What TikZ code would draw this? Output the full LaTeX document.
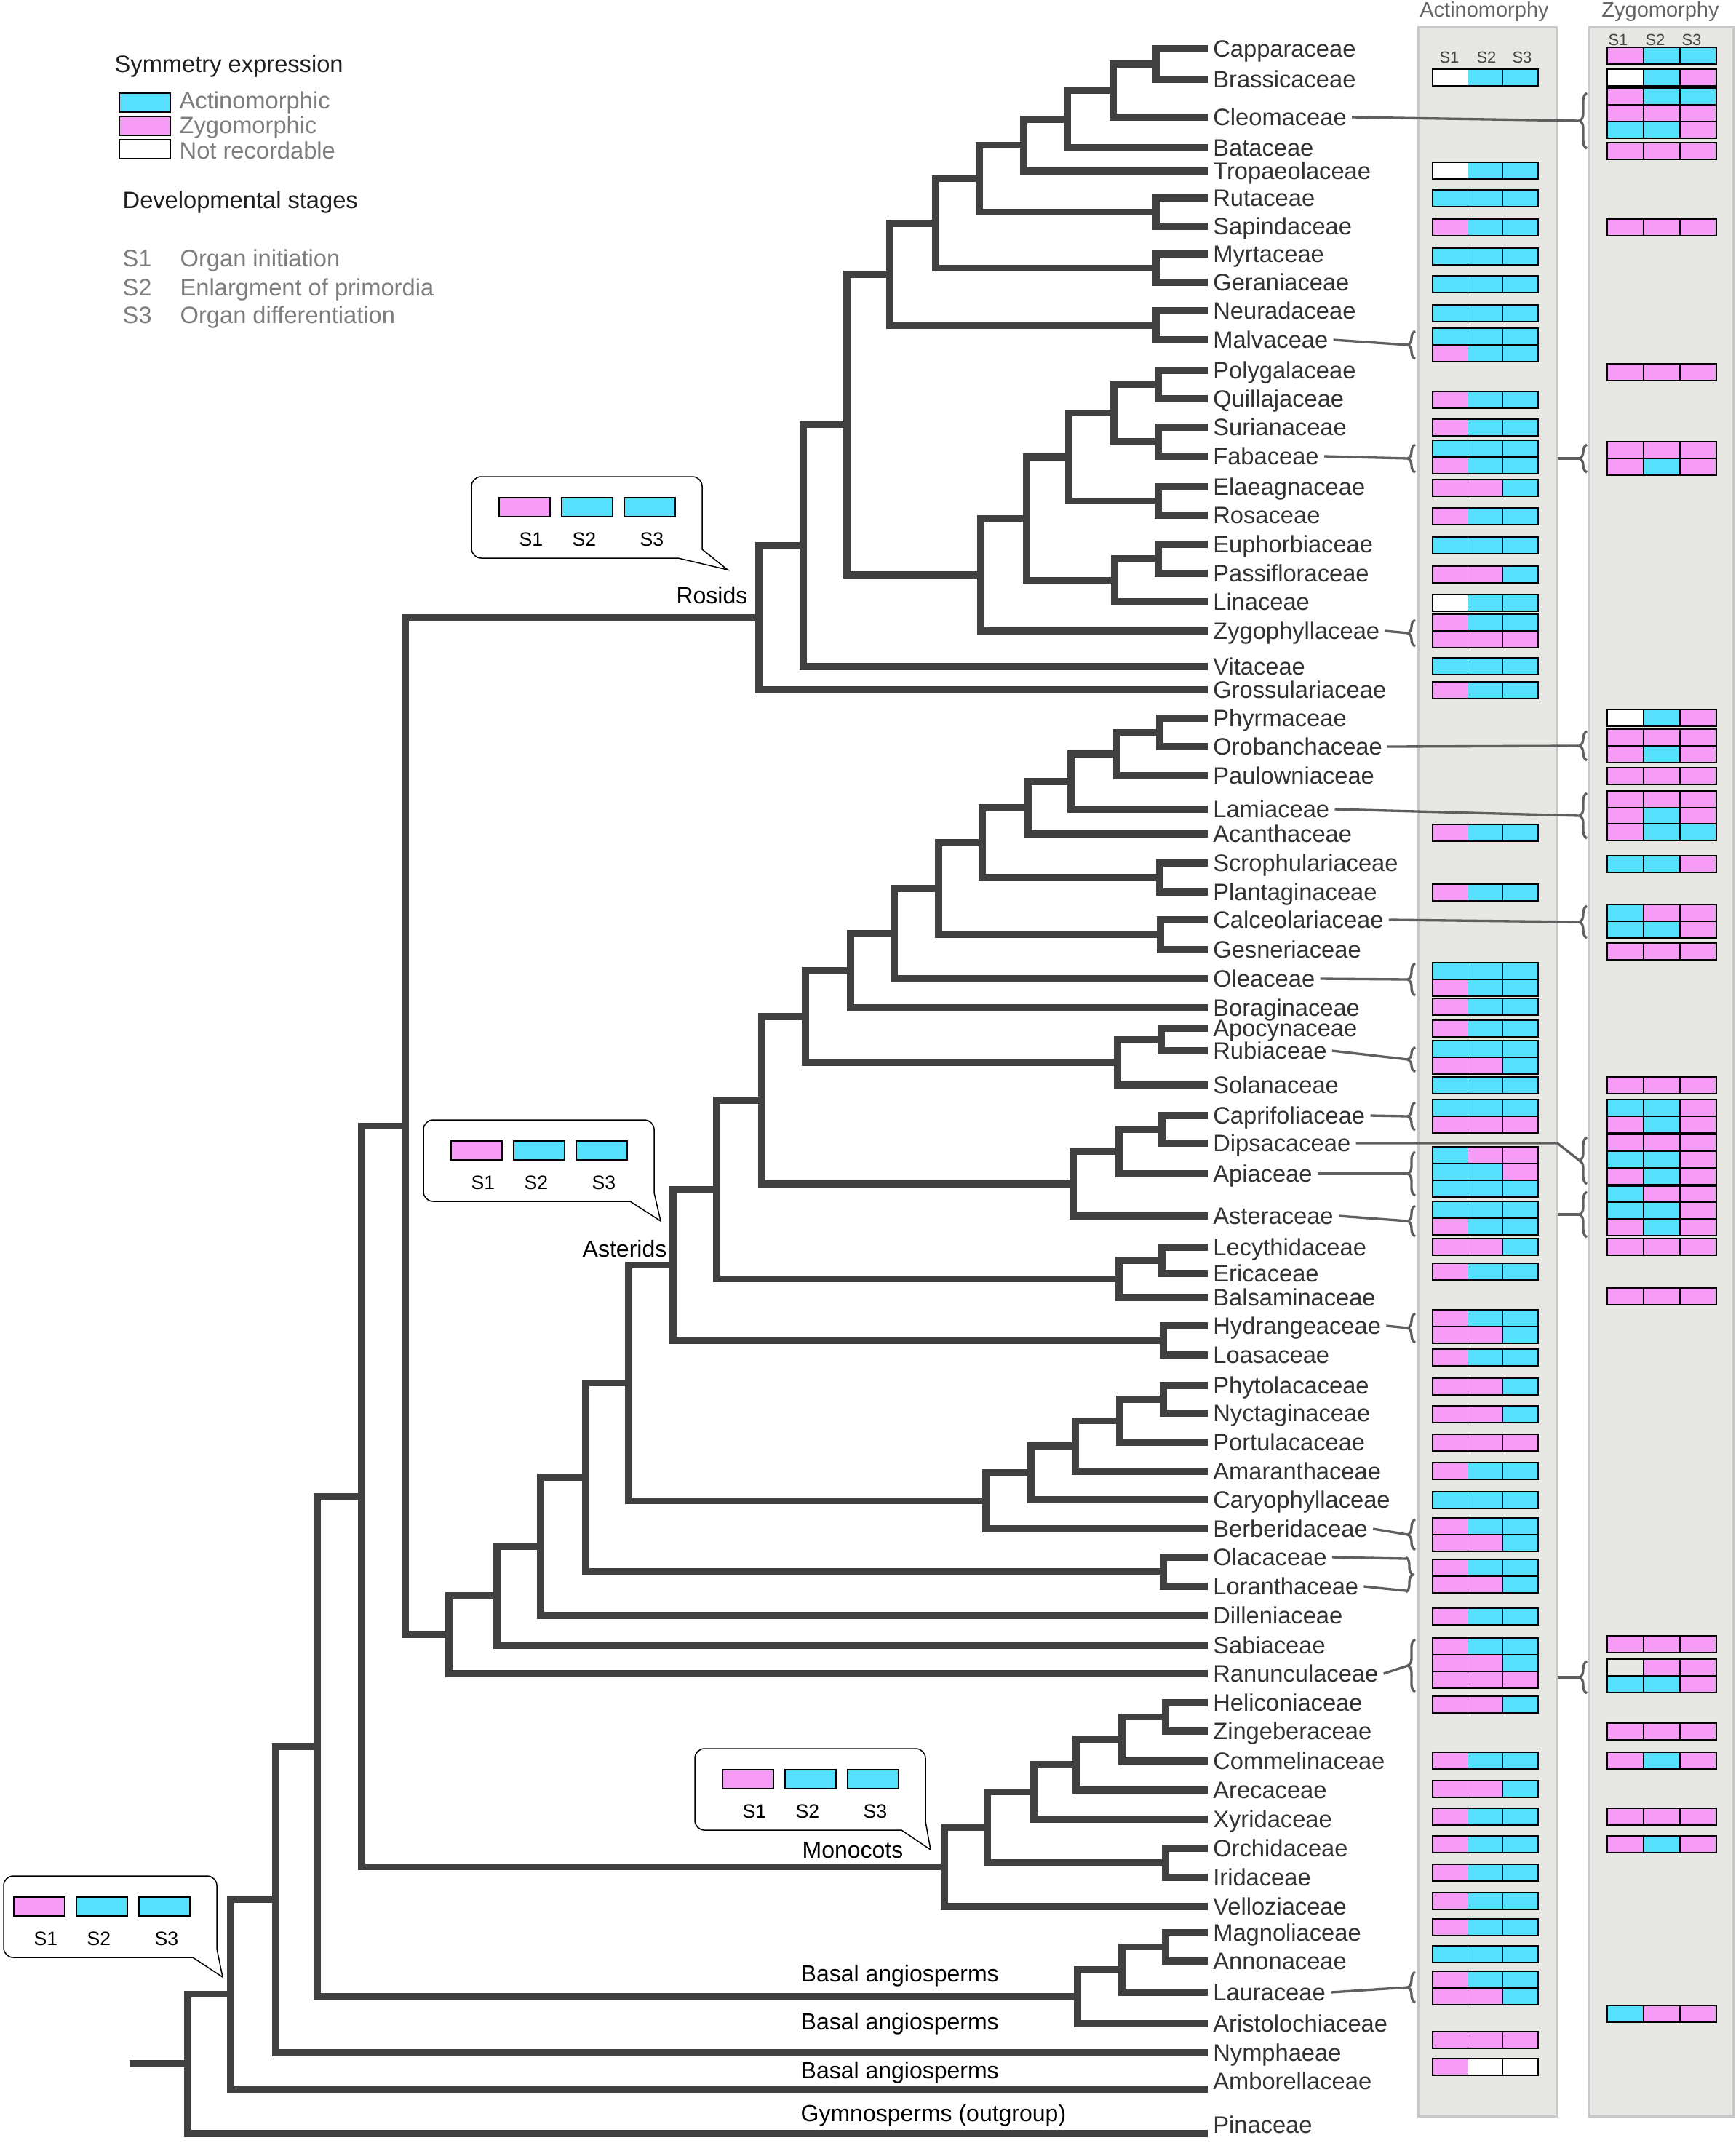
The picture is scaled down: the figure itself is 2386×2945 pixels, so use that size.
\documentclass[tikz,border=0pt]{standalone}
\usepackage{fontspec}
\setmainfont{Liberation Sans}
\usetikzlibrary{decorations.pathreplacing}

\definecolor{treegrey}{RGB}{64,64,64}
\definecolor{labgrey}{RGB}{50,50,50}
\definecolor{keygrey}{RGB}{125,125,125}
\definecolor{titlegrey}{RGB}{100,100,100}
\definecolor{hdrgrey}{RGB}{70,70,70}
\definecolor{leadgrey}{RGB}{95,95,95}
\definecolor{panelfill}{RGB}{231,231,227}
\definecolor{paneledge}{RGB}{200,200,200}
\definecolor{actc}{RGB}{86,224,253}
\definecolor{zygc}{RGB}{246,156,246}

\tikzset{
  branch/.style={draw=treegrey, line width=2.8pt},
  tip/.style={anchor=west, inner sep=2pt, text height=7pt, text depth=0pt, text=labgrey, font=\fontsize{9.8}{11}\selectfont},
  clade/.style={inner sep=0pt, text height=7pt, text depth=0pt, text=black, font=\fontsize{9.6}{11}\selectfont},
  panel/.style={draw=paneledge, fill=panelfill, line width=0.9pt, inner sep=0pt},
  ptitle/.style={inner sep=0pt, text=titlegrey, font=\fontsize{8.7}{10}\selectfont},
  hdr/.style={inner sep=0pt, text=hdrgrey, font=\fontsize{6.6}{8}\selectfont},
  cell/.style={draw=black, line width=0.35pt},
  cy/.style={fill=actc}, pk/.style={fill=zygc}, wh/.style={fill=white}, gy/.style={},
  lead/.style={draw=leadgrey, line width=1pt},
  brc/.style={decorate, decoration={brace, amplitude=3pt}, draw=leadgrey, line width=1pt},
  bubble/.style={draw=black, fill=white, line width=0.45pt},
  stl/.style={inner sep=0pt, font=\fontsize{8}{9}\selectfont},
  keyhead/.style={anchor=west, inner sep=0pt, text height=7pt, text depth=0pt, text=black!88, font=\fontsize{9.8}{11}\selectfont},
  keytxt/.style={anchor=west, inner sep=0pt, text height=7pt, text depth=0pt, text=keygrey, font=\fontsize{9.8}{11}\selectfont},
}

% one row of three stage cells: left x, top y, cell width, fills
\newcommand{\cellrow}[4]{%
  \foreach \f [count=\k from 0] in {#4} {\draw[cell,\f] (#1+\k*#3,#2) rectangle ++(#3,23);}}
\newcommand{\arow}[2]{\cellrow{1969}{#1}{48.33}{#2}}
\newcommand{\zrow}[2]{\cellrow{2209}{#1}{50}{#2}}
% brace opening to the left: name, arm x, mid y, half height
\newcommand{\sbrace}[4]{%
  \draw[brc] (#2,#3+#4) -- (#2,#3-#4);
  \coordinate (#1) at (#2-10,#3);}
% speech bubble with S1-S3 boxes: name, right x, top y, width, tail tip x, tail tip y
\newcommand{\stagecallout}[6]{%
  \draw[bubble] (#2-33,#3+112) -- (#5,#6) -- (#2,#3+100)
    [rounded corners=4pt] -- (#2,#3) -- (#2-#4,#3) -- (#2-#4,#3+112) -- (#2-33,#3+112);
  \draw[cell,pk] (#2-279,#3+29) rectangle ++(70,26);
  \draw[cell,cy] (#2-193,#3+29) rectangle ++(70,26);
  \draw[cell,cy] (#2-107,#3+29) rectangle ++(70,26);
  \node[stl] (#1a) at (#2-235,#3+86) {S1};
  \node[stl] (#1b) at (#2-162,#3+86) {S2};
  \node[stl] (#1c) at (#2-69,#3+86) {S3};}

\begin{document}
\begin{tikzpicture}[x=0.3pt,y=0.3pt,yscale=-1]
\useasboundingbox (0,0) rectangle (2386,2945);

%% legend
\node[keyhead] (symhd) at (157,88) {Symmetry expression};
\draw[cell,cy] (164,128) rectangle (234,154);
\draw[cell,pk] (164,160) rectangle (234,186);
\draw[cell,wh] (164,192) rectangle (234,218);
\node[keytxt] (kact) at (246,138) {Actinomorphic};
\node[keytxt] (kzyg) at (246,172) {Zygomorphic};
\node[keytxt] (knr) at (246,207) {Not recordable};
\node[keyhead] (devhd) at (168,275) {Developmental stages};
\node[keytxt] (ks1) at (168,355) {S1};
\node[keytxt] (ko1) at (247,355) {Organ initiation};
\node[keytxt] (ks2) at (168,395) {S2};
\node[keytxt] (ko2) at (247,395) {Enlargment of primordia};
\node[keytxt] (ks3) at (168,433) {S3};
\node[keytxt] (ko3) at (247,433) {Organ differentiation};

%% panels
\node[panel, minimum width=57pt, minimum height=861.3pt] (actp) at (2044,1472.5) {};
\node[panel, minimum width=59.4pt, minimum height=861.3pt] (zygp) at (2283,1472.5) {};
\node[ptitle] (acttl) at (2040,16) {Actinomorphy};
\node[ptitle] (zygtl) at (2282,16) {Zygomorphy};
\node[hdr] (ah1) at (1992,79) {S1};
\node[hdr] (ah2) at (2043,79) {S2};
\node[hdr] (ah3) at (2092,79) {S3};
\node[hdr] (zh1) at (2224,55) {S1};
\node[hdr] (zh2) at (2275,55) {S2};
\node[hdr] (zh3) at (2325,55) {S3};

%% tip labels
\node[tip] (capp) at (1660,67) {Capparaceae};
\node[tip] (bras) at (1660,109) {Brassicaceae};
\node[tip] (cleo) at (1660,161) {Cleomaceae};
\node[tip] (bata) at (1660,203) {Bataceae};
\node[tip] (trop) at (1660,235) {Tropaeolaceae};
\node[tip] (ruta) at (1660,272) {Rutaceae};
\node[tip] (sapi) at (1660,311) {Sapindaceae};
\node[tip] (myrt) at (1660,349) {Myrtaceae};
\node[tip] (gera) at (1660,388) {Geraniaceae};
\node[tip] (neur) at (1660,427) {Neuradaceae};
\node[tip] (malv) at (1660,467) {Malvaceae};
\node[tip] (poly) at (1660,509) {Polygalaceae};
\node[tip] (quil) at (1660,548) {Quillajaceae};
\node[tip] (suri) at (1660,587) {Surianaceae};
\node[tip] (faba) at (1660,627) {Fabaceae};
\node[tip] (elae) at (1660,669) {Elaeagnaceae};
\node[tip] (rosa) at (1660,708) {Rosaceae};
\node[tip] (euph) at (1660,748) {Euphorbiaceae};
\node[tip] (pass) at (1660,788) {Passifloraceae};
\node[tip] (lina) at (1660,827) {Linaceae};
\node[tip] (zygo) at (1660,867) {Zygophyllaceae};
\node[tip] (vita) at (1660,916) {Vitaceae};
\node[tip] (gros) at (1660,948) {Grossulariaceae};
\node[tip] (phyr) at (1660,987) {Phyrmaceae};
\node[tip] (orob) at (1660,1026) {Orobanchaceae};
\node[tip] (paul) at (1660,1066) {Paulowniaceae};
\node[tip] (lami) at (1660,1112) {Lamiaceae};
\node[tip] (acan) at (1660,1146) {Acanthaceae};
\node[tip] (scro) at (1660,1186) {Scrophulariaceae};
\node[tip] (plan) at (1660,1226) {Plantaginaceae};
\node[tip] (calc) at (1660,1264) {Calceolariaceae};
\node[tip] (gesn) at (1660,1305) {Gesneriaceae};
\node[tip] (olea) at (1660,1345) {Oleaceae};
\node[tip] (bora) at (1660,1385) {Boraginaceae};
\node[tip] (apoc) at (1660,1413) {Apocynaceae};
\node[tip] (rubi) at (1660,1444) {Rubiaceae};
\node[tip] (sola) at (1660,1491) {Solanaceae};
\node[tip] (capr) at (1660,1533) {Caprifoliaceae};
\node[tip] (dips) at (1660,1571) {Dipsacaceae};
\node[tip] (apia) at (1660,1613) {Apiaceae};
\node[tip] (aste) at (1660,1671) {Asteraceae};
\node[tip] (lecy) at (1660,1714) {Lecythidaceae};
\node[tip] (eric) at (1660,1750) {Ericaceae};
\node[tip] (bals) at (1660,1783) {Balsaminaceae};
\node[tip] (hydr) at (1660,1822) {Hydrangeaceae};
\node[tip] (loas) at (1660,1862) {Loasaceae};
\node[tip] (phyt) at (1660,1904) {Phytolacaceae};
\node[tip] (nyct) at (1660,1942) {Nyctaginaceae};
\node[tip] (port) at (1660,1982) {Portulacaceae};
\node[tip] (amar) at (1660,2022) {Amaranthaceae};
\node[tip] (cary) at (1660,2061) {Caryophyllaceae};
\node[tip] (berb) at (1660,2101) {Berberidaceae};
\node[tip] (olac) at (1660,2140) {Olacaceae};
\node[tip] (lora) at (1660,2180) {Loranthaceae};
\node[tip] (dill) at (1660,2220) {Dilleniaceae};
\node[tip] (sabi) at (1660,2261) {Sabiaceae};
\node[tip] (ranu) at (1660,2300) {Ranunculaceae};
\node[tip] (heli) at (1660,2340) {Heliconiaceae};
\node[tip] (zing) at (1660,2379) {Zingeberaceae};
\node[tip] (comm) at (1660,2420) {Commelinaceae};
\node[tip] (arec) at (1660,2460) {Arecaceae};
\node[tip] (xyri) at (1660,2500) {Xyridaceae};
\node[tip] (orch) at (1660,2540) {Orchidaceae};
\node[tip] (irid) at (1660,2580) {Iridaceae};
\node[tip] (vell) at (1660,2620) {Velloziaceae};
\node[tip] (magn) at (1660,2656) {Magnoliaceae};
\node[tip] (anno) at (1660,2695) {Annonaceae};
\node[tip] (laur) at (1660,2738) {Lauraceae};
\node[tip] (aris) at (1660,2781) {Aristolochiaceae};
\node[tip] (nymp) at (1660,2821) {Nymphaeae};
\node[tip] (ambo) at (1660,2860) {Amborellaceae};
\node[tip] (pina) at (1660,2920) {Pinaceae};
\coordinate (ambot) at (1660,2871);
\coordinate (pinat) at (1660,2932);

%% internal nodes
% rosids
\coordinate (r1) at (1589,88);
\coordinate (r2) at (1530,124.5);
\coordinate (r3) at (1467,164);
\coordinate (r4) at (1407,199.5);
\coordinate (r5) at (1589,291.5);
\coordinate (r6) at (1346,245.5);
\coordinate (r7) at (1589,368.5);
\coordinate (r8) at (1286,307);
\coordinate (r9) at (1589,447);
\coordinate (r10) at (1223,377);
\coordinate (r11) at (1592,528.5);
\coordinate (r12) at (1592,607);
\coordinate (r13) at (1531,567.75);
\coordinate (r14) at (1592,688.5);
\coordinate (r15) at (1469,628);
\coordinate (r16) at (1592,768);
\coordinate (r17) at (1532,797.5);
\coordinate (r18) at (1411,712.75);
\coordinate (r19) at (1348,790);
\coordinate (r20) at (1164,583.5);
\coordinate (r21) at (1104,749.75);
\coordinate (rosids) at (1043,849);
% asterids
\coordinate (a1) at (1594,1006.5);
\coordinate (a2) at (1535,1036);
\coordinate (a3) at (1472,1074);
\coordinate (a4) at (1413,1110);
\coordinate (a5) at (1594,1206);
\coordinate (a6) at (1350,1158);
\coordinate (a7) at (1595,1284.5);
\coordinate (a8) at (1290,1221);
\coordinate (a9) at (1229,1283);
\coordinate (a10) at (1169,1334);
\coordinate (a11) at (1596,1428.5);
\coordinate (a12) at (1536,1460);
\coordinate (a13) at (1107,1397);
\coordinate (a14) at (1597,1552);
\coordinate (a15) at (1538,1582.5);
\coordinate (a16) at (1475,1627);
\coordinate (a17) at (1047,1512);
\coordinate (a18) at (1597,1732);
\coordinate (a19) at (1538,1757.5);
\coordinate (a20) at (985,1635);
\coordinate (a21) at (1599,1842);
\coordinate (asterids) at (925,1738.5);
% caryophyllales and early eudicots
\coordinate (c1) at (1599,1923);
\coordinate (c2) at (1539,1952.5);
\coordinate (c3) at (1478,1987);
\coordinate (c4) at (1417,2024);
\coordinate (c5) at (1355,2062.5);
\coordinate (c6) at (1599,2160);
\coordinate (e1) at (864,1900.5);
\coordinate (e2) at (805,2030);
\coordinate (e3) at (743,2125);
\coordinate (e4) at (683,2193);
\coordinate (e5) at (617,2246.5);
\coordinate (e6) at (557,1547.75);
% monocots
\coordinate (m1) at (1602,2359.5);
\coordinate (m2) at (1542,2390);
\coordinate (m3) at (1479,2425);
\coordinate (m4) at (1421,2462.5);
\coordinate (m5) at (1602,2560);
\coordinate (m6) at (1357,2511);
\coordinate (monocots) at (1298,2565.5);
\coordinate (e7) at (497,2056.6);
% basal
\coordinate (b1) at (1602,2675.5);
\coordinate (b2) at (1542,2706.75);
\coordinate (b3) at (1481,2744);
\coordinate (e8) at (436,2400);
\coordinate (e9) at (379,2610.5);
\coordinate (e10) at (317,2740.75);
\coordinate (root) at (258,2836);
\coordinate (rootin) at (178,2836);

%% branches
\foreach \p/\c in {r1/capp,r1/bras,r2/r1,r2/cleo,r3/r2,r3/bata,r4/r3,r4/trop,
  r5/ruta,r5/sapi,r6/r4,r6/r5,r7/myrt,r7/gera,r8/r6,r8/r7,r9/neur,r9/malv,r10/r8,r10/r9,
  r11/poly,r11/quil,r12/suri,r12/faba,r13/r11,r13/r12,r14/elae,r14/rosa,r15/r13,r15/r14,
  r16/euph,r16/pass,r17/r16,r17/lina,r18/r15,r18/r17,r19/r18,r19/zygo,r20/r10,r20/r19,
  r21/r20,r21/vita,rosids/r21,rosids/gros}
  \draw[branch] (\p) |- (\c);
\foreach \p/\c in {a1/phyr,a1/orob,a2/a1,a2/paul,a3/a2,a3/lami,a4/a3,a4/acan,
  a5/scro,a5/plan,a6/a4,a6/a5,a7/calc,a7/gesn,a8/a6,a8/a7,a9/a8,a9/olea,a10/a9,a10/bora,
  a11/apoc,a11/rubi,a12/a11,a12/sola,a13/a10,a13/a12,a14/capr,a14/dips,a15/a14,a15/apia,
  a16/a15,a16/aste,a17/a13,a17/a16,a18/lecy,a18/eric,a19/a18,a19/bals,a20/a17,a20/a19,
  a21/hydr,a21/loas,asterids/a20,asterids/a21}
  \draw[branch] (\p) |- (\c);
\foreach \p/\c in {c1/phyt,c1/nyct,c2/c1,c2/port,c3/c2,c3/amar,c4/c3,c4/cary,c5/c4,c5/berb,
  e1/asterids,e1/c5,c6/olac,c6/lora,e2/e1,e2/c6,e3/e2,e3/dill,e4/e3,e4/sabi,e5/e4,e5/ranu,
  e6/rosids,e6/e5}
  \draw[branch] (\p) |- (\c);
\foreach \p/\c in {m1/heli,m1/zing,m2/m1,m2/comm,m3/m2,m3/arec,m4/m3,m4/xyri,
  m5/orch,m5/irid,m6/m4,m6/m5,monocots/m6,monocots/vell,e7/e6,e7/monocots,
  b1/magn,b1/anno,b2/b1,b2/laur,b3/b2,b3/aris,e8/e7,e8/b3,e9/e8,e9/nymp,
  e10/e9,e10/ambot,root/e10,root/pinat}
  \draw[branch] (\p) |- (\c);
\draw[branch] (rootin) -- (root);

%% clade labels
\node[clade, anchor=east] (rosidlab) at (1028,818) {Rosids};
\node[clade, anchor=east] (asterlab) at (917,1716) {Asterids};
\node[clade] (monolab) at (1172,2542) {Monocots};
\node[clade, anchor=west] (basal1) at (1100,2712) {Basal angiosperms};
\node[clade, anchor=west] (basal2) at (1100,2778) {Basal angiosperms};
\node[clade, anchor=west] (basal3) at (1100,2845) {Basal angiosperms};
\node[clade, anchor=west] (gymlab) at (1100,2904) {Gymnosperms (outgroup)};

%% ancestral state callouts
\stagecallout{cr}{965}{655}{317}{1000}{783}
\stagecallout{ca}{899}{1539}{317}{908}{1678}
\stagecallout{cm}{1272}{2403}{317}{1279}{2542}
\stagecallout{cb}{298}{2578}{293}{306}{2717}

%% actinomorphy cells
\arow{95}{wh,cy,cy}
\arow{223}{wh,cy,cy}
\arow{261}{cy,cy,cy}
\arow{301}{pk,cy,cy}
\arow{341}{cy,cy,cy}
\arow{379}{cy,cy,cy}
\arow{419}{cy,cy,cy}
\arow{451}{cy,cy,cy}
\arow{474}{pk,cy,cy}
\arow{538}{pk,cy,cy}
\arow{576}{pk,cy,cy}
\arow{605}{cy,cy,cy}
\arow{628}{pk,cy,cy}
\arow{659}{pk,pk,cy}
\arow{698}{pk,cy,cy}
\arow{738}{cy,cy,cy}
\arow{778}{pk,pk,cy}
\arow{817}{wh,cy,cy}
\arow{844}{pk,cy,cy}
\arow{867}{pk,pk,pk}
\arow{904}{cy,cy,cy}
\arow{937}{pk,cy,cy}
\arow{1133}{pk,cy,cy}
\arow{1215}{pk,cy,cy}
\arow{1323}{cy,cy,cy}
\arow{1346}{pk,cy,cy}
\arow{1372}{pk,cy,cy}
\arow{1402}{pk,cy,cy}
\arow{1430}{cy,cy,cy}
\arow{1453}{pk,pk,cy}
\arow{1480}{cy,cy,cy}
\arow{1511}{cy,cy,cy}
\arow{1534}{pk,pk,pk}
\arow{1576}{cy,pk,pk}
\arow{1599}{cy,cy,pk}
\arow{1622}{cy,cy,cy}
\arow{1651}{cy,cy,cy}
\arow{1674}{pk,cy,cy}
\arow{1702}{pk,pk,cy}
\arow{1736}{pk,cy,cy}
\arow{1800}{pk,cy,cy}
\arow{1823}{pk,pk,cy}
\arow{1854}{pk,cy,cy}
\arow{1894}{pk,pk,cy}
\arow{1932}{pk,pk,cy}
\arow{1971}{pk,pk,pk}
\arow{2010}{pk,cy,cy}
\arow{2050}{cy,cy,cy}
\arow{2086}{pk,cy,cy}
\arow{2109}{pk,pk,cy}
\arow{2143}{pk,cy,cy}
\arow{2166}{pk,pk,cy}
\arow{2210}{pk,cy,cy}
\arow{2251}{pk,cy,cy}
\arow{2274}{pk,pk,cy}
\arow{2297}{pk,pk,pk}
\arow{2331}{pk,pk,cy}
\arow{2408}{pk,cy,cy}
\arow{2447}{pk,pk,cy}
\arow{2485}{pk,cy,cy}
\arow{2523}{pk,cy,cy}
\arow{2562}{pk,cy,cy}
\arow{2601}{pk,cy,cy}
\arow{2637}{pk,cy,cy}
\arow{2674}{cy,cy,cy}
\arow{2709}{pk,cy,cy}
\arow{2732}{pk,pk,cy}
\arow{2792}{pk,pk,pk}
\arow{2829}{pk,wh,wh}

%% zygomorphy cells
\zrow{65}{pk,cy,cy}
\zrow{95}{wh,cy,pk}
\zrow{121}{pk,cy,cy}
\zrow{144}{pk,pk,pk}
\zrow{167}{cy,cy,pk}
\zrow{196}{pk,pk,pk}
\zrow{301}{pk,pk,pk}
\zrow{500}{pk,pk,pk}
\zrow{607}{pk,pk,pk}
\zrow{630}{pk,cy,pk}
\zrow{975}{wh,cy,pk}
\zrow{1002}{pk,pk,pk}
\zrow{1025}{pk,cy,pk}
\zrow{1055}{pk,pk,pk}
\zrow{1087}{pk,pk,pk}
\zrow{1110}{pk,cy,pk}
\zrow{1132}{pk,cy,cy}
\zrow{1176}{cy,cy,pk}
\zrow{1243}{cy,pk,pk}
\zrow{1266}{cy,cy,pk}
\zrow{1296}{pk,pk,pk}
\zrow{1480}{pk,pk,pk}
\zrow{1511}{cy,cy,pk}
\zrow{1534}{pk,cy,pk}
\zrow{1559}{pk,pk,pk}
\zrow{1582}{cy,cy,pk}
\zrow{1605}{pk,cy,pk}
\zrow{1630}{cy,pk,pk}
\zrow{1652}{cy,cy,pk}
\zrow{1675}{pk,cy,pk}
\zrow{1702}{pk,pk,pk}
\zrow{1770}{pk,pk,pk}
\zrow{2248}{pk,pk,pk}
\zrow{2280}{gy,pk,pk}
\zrow{2303}{cy,cy,pk}
\zrow{2368}{pk,pk,pk}
\zrow{2408}{pk,cy,pk}
\zrow{2485}{pk,pk,pk}
\zrow{2523}{pk,cy,pk}
\zrow{2756}{cy,pk,pk}

%% braces and leader lines
\sbrace{bmalv}{1945}{474}{19}
\sbrace{bfaba}{1945}{630}{19}
\sbrace{bzygo}{1945}{870}{18}
\sbrace{bolea}{1945}{1346}{22}
\sbrace{brubi}{1945}{1456}{17}
\sbrace{bcapr}{1945}{1534}{19}
\sbrace{bapia}{1945}{1613}{30}
\sbrace{baste}{1945}{1678}{21}
\sbrace{bhydr}{1945}{1825}{20}
\sbrace{bberb}{1945}{2109}{21}
\sbrace{branu}{1945}{2289}{36}
\sbrace{blaur}{1945}{2731}{21}
\sbrace{zcleo}{2181}{166}{38}
\sbrace{zfaba}{2181}{630}{19}
\sbrace{zorob}{2181}{1025}{20}
\sbrace{zlami}{2181}{1121}{31}
\sbrace{zcalc}{2181}{1267}{22}
\sbrace{zdips}{2181}{1595}{32}
\sbrace{zaste}{2181}{1669}{31}
\sbrace{zranu}{2181}{2305}{22}
\draw[brc] (1932,2140) -- (1932,2188);
\coordinate (olt) at (1932,2142);
\coordinate (olb) at (1932,2186);

\foreach \t in {malv,faba,zygo,olea,rubi,capr,apia,aste,hydr,berb,ranu,laur}
  \draw[lead] (\t.east) -- (b\t);
\foreach \t in {cleo,orob,lami,calc}
  \draw[lead] (\t.east) -- (z\t);
\foreach \t in {faba,aste,ranu}
  \draw[lead] (actp.east |- z\t) -- (z\t);
\draw[lead] (dips.east) -- (actp.east |- dips.east) -- (zdips);
\draw[lead] (olac.east) -- (olt);
\draw[lead] (lora.east) -- (olb);

\end{tikzpicture}
\end{document}
